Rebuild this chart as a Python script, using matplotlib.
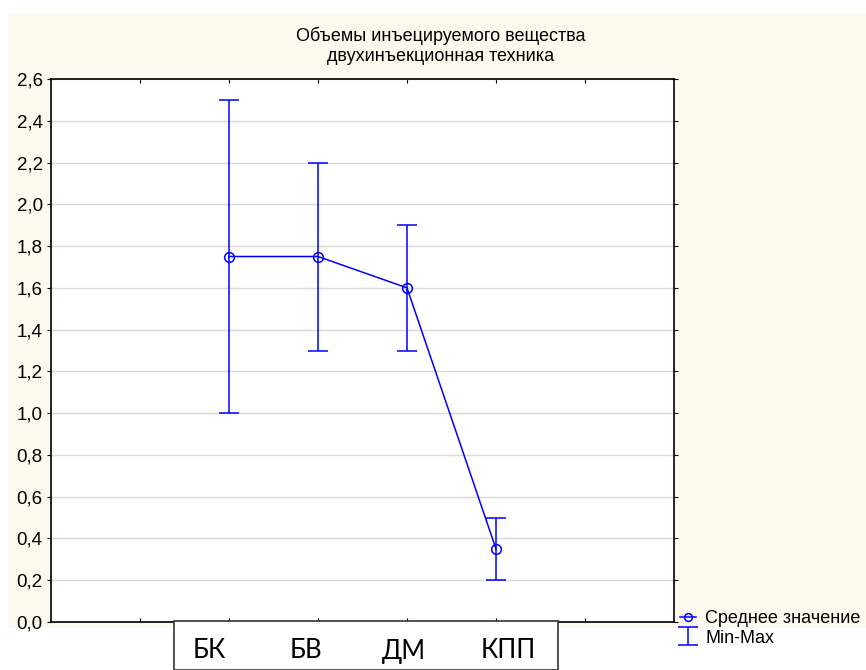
import matplotlib.pyplot as plt
from matplotlib.patches import Rectangle

# data
groups = ['БК', 'БВ', 'ДМ', 'КПП']
x_pos = [2, 3, 4, 5]
means = [1.75, 1.75, 1.6, 0.35]
mins = [1.0, 1.3, 1.3, 0.2]
maxs = [2.5, 2.2, 1.9, 0.5]
y_ticks = [0.0, 0.2, 0.4, 0.6, 0.8, 1.0, 1.2, 1.4, 1.6, 1.8, 2.0, 2.2, 2.4, 2.6]

plt.rcParams['font.family'] = ['Liberation Sans', 'DejaVu Sans']

fig = plt.figure(figsize=(8.66, 6.70), dpi=100)
fig.patch.set_facecolor('white')
# beige background panel
fig.patches.append(Rectangle((8 / 866, 1 - 628 / 670), 1 - 8 / 866, (628 - 13) / 670,
                             transform=fig.transFigure, facecolor='#fdf9ef',
                             edgecolor='none', zorder=-5))

ax = fig.add_axes([51 / 866, 1 - 622 / 670, (674 - 51) / 866, (622 - 79) / 670])
ax.set_facecolor('white')

blue = '#0000ff'
lo = [m - a for m, a in zip(means, mins)]
hi = [b - m for m, b in zip(means, maxs)]
ax.errorbar(x_pos, means, yerr=[lo, hi], fmt='none', ecolor=blue, elinewidth=1.1,
            capsize=7, capthick=1.1, label='Min-Max', zorder=3)
ax.plot(x_pos, means, color=blue, lw=1.1, marker='o', markersize=7,
        markerfacecolor='none', markeredgecolor=blue, markeredgewidth=1.1,
        label='Среднее значение', zorder=4)

ax.set_xlim(0, 7)
ax.set_ylim(0, 2.6)
ax.set_xticks([1, 2, 3, 4, 5, 6])
ax.set_xticklabels([])
ax.set_yticks(y_ticks)
ax.set_yticklabels([('%.1f' % v).replace('.', ',') for v in y_ticks], fontsize=13.5)
ax.yaxis.grid(True, color='#d9d9d9', lw=1)
ax.set_axisbelow(True)
ax.tick_params(axis='y', direction='out', length=3, left=True, right=True, pad=3)
ax.tick_params(axis='x', direction='in', length=3, top=True, bottom=True)
for s in ax.spines.values():
    s.set_linewidth(1.2)

fig.text(441 / 866, 1 - 46 / 670, 'Объемы инъецируемого вещества\nдвухинъекционная техника',
         ha='center', va='center', fontsize=13, linespacing=1.2)

# legend
h, l = ax.get_legend_handles_labels()
fig.legend(h, l, loc='upper left', bbox_to_anchor=(680 / 866, 1 - 610 / 670),
           frameon=False, fontsize=13, handlelength=0.9, handletextpad=0.5,
           labelspacing=0.15, borderaxespad=0, borderpad=0, markerscale=0.8)

# white label box pasted under the axis
fig.patches.append(Rectangle((174 / 866, 0), (558 - 174) / 866, (670 - 621) / 670,
                             transform=fig.transFigure, facecolor='white',
                             edgecolor='#333333', lw=1.2, zorder=10))
label_x = [209, 306, 404, 508]
for name, xx in zip(groups, label_x):
    fig.text(xx / 866, 1 - 651 / 670, name, ha='center', va='center', fontsize=18.5,
             family=['Lato', 'DejaVu Sans'], zorder=11)

fig.savefig('out.png', dpi=100)
